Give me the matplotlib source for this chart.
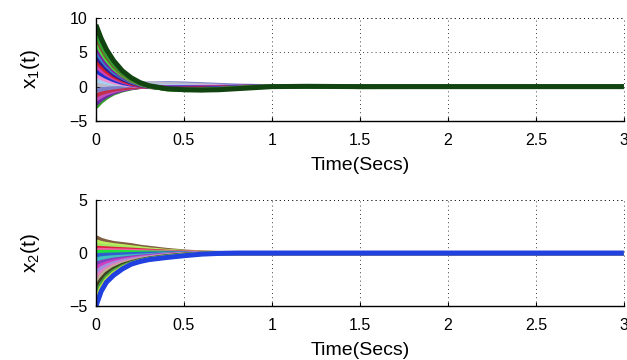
import matplotlib.pyplot as plt

plt.rcParams['font.family'] = ['Liberation Sans', 'DejaVu Sans']
plt.rcParams['mathtext.fontset'] = 'custom'
plt.rcParams['mathtext.rm'] = 'Liberation Sans'
plt.rcParams['mathtext.it'] = 'Liberation Sans:italic'

# sample times (s) used for the state trajectories
t1 = [0, 0.03, 0.06, 0.1, 0.15, 0.2, 0.25, 0.3, 0.4, 0.5, 0.6, 0.7, 0.8, 0.9, 1.0, 1.2, 1.5, 3.0]
t2 = [0, 0.03, 0.06, 0.1, 0.15, 0.2, 0.25, 0.3, 0.4, 0.5, 0.6, 0.7, 0.8, 1.0, 3.0]

# x1(t) trajectories, bottom to top at t=0
x1_curves = [
    [-3.0, -2.2, -1.6, -1.0, -0.55, -0.25, -0.05, 0.1, 0.25, 0.3, 0.25, 0.15, 0.05, 0.0, 0.0, 0.0, 0.0, 0.0],
    [-2.5, -1.85, -1.35, -0.85, -0.45, -0.2, -0.05, 0.05, 0.15, 0.2, 0.15, 0.1, 0.05, 0.0, 0.0, 0.0, 0.0, 0.0],
    [-1.9, -1.4, -1.0, -0.65, -0.35, -0.15, 0.0, 0.05, 0.1, 0.1, 0.1, 0.05, 0.0, 0.0, 0.0, 0.0, 0.0, 0.0],
    [-1.3, -0.95, -0.7, -0.45, -0.25, -0.1, 0.0, 0.05, 0.05, 0.05, 0.0, 0.0, 0.0, 0.0, 0.0, 0.0, 0.0, 0.0],
    [-0.6, -0.4, -0.25, -0.1, 0.05, 0.2, 0.35, 0.45, 0.5, 0.45, 0.35, 0.25, 0.15, 0.1, 0.05, 0.0, 0.0, 0.0],
    [0.2, 0.25, 0.3, 0.35, 0.4, 0.45, 0.45, 0.45, 0.4, 0.3, 0.2, 0.1, 0.05, 0.0, 0.0, 0.0, 0.0, 0.0],
    [0.9, 0.75, 0.6, 0.45, 0.35, 0.25, 0.2, 0.15, 0.1, 0.05, 0.0, 0.0, 0.0, 0.0, 0.0, 0.0, 0.0, 0.0],
    [1.6, 1.25, 0.95, 0.65, 0.4, 0.2, 0.1, 0.0, -0.05, -0.05, 0.0, 0.0, 0.0, 0.0, 0.0, 0.0, 0.0, 0.0],
    [2.3, 1.8, 1.4, 0.95, 0.55, 0.3, 0.12, 0.0, -0.1, -0.1, -0.1, -0.05, 0.0, 0.0, 0.0, 0.0, 0.0, 0.0],
    [3.0, 2.35, 1.8, 1.25, 0.75, 0.4, 0.15, 0.0, -0.15, -0.2, -0.15, -0.1, -0.05, 0.0, 0.0, 0.0, 0.0, 0.0],
    [3.7, 2.9, 2.2, 1.5, 0.9, 0.45, 0.15, -0.05, -0.2, -0.25, -0.2, -0.15, -0.05, 0.0, 0.0, 0.0, 0.0, 0.0],
    [4.4, 3.45, 2.65, 1.8, 1.1, 0.6, 0.25, 0.0, -0.25, -0.3, -0.3, -0.2, -0.1, 0.0, 0.0, 0.0, 0.0, 0.0],
    [5.1, 4.0, 3.05, 2.1, 1.3, 0.7, 0.3, 0.0, -0.3, -0.35, -0.35, -0.25, -0.1, 0.0, 0.0, 0.0, 0.0, 0.0],
    [5.8, 4.5, 3.45, 2.4, 1.45, 0.8, 0.35, 0.05, -0.3, -0.4, -0.4, -0.3, -0.15, -0.05, 0.0, 0.0, 0.0, 0.0],
    [6.5, 5.05, 3.9, 2.7, 1.65, 0.9, 0.4, 0.05, -0.35, -0.45, -0.45, -0.35, -0.2, -0.05, 0.0, 0.0, 0.0, 0.0],
    [7.2, 5.6, 4.3, 3.0, 1.8, 1.0, 0.45, 0.05, -0.35, -0.45, -0.45, -0.35, -0.2, -0.05, 0.0, 0.05, -0.05, 0.0],
    [7.9, 6.15, 4.7, 3.3, 2.0, 1.1, 0.5, 0.1, -0.35, -0.5, -0.5, -0.4, -0.25, -0.1, 0.0, 0.05, -0.05, 0.0],
    [9.0, 7.0, 5.4, 3.8, 2.3, 1.3, 0.6, 0.15, -0.3, -0.45, -0.5, -0.45, -0.3, -0.15, 0.0, 0.05, 0.0, 0.0],
]
x1_colors = ['#3aa02a', '#6a2ca8', '#c04fc0', '#c0304a', '#7a80cc', '#b8b8c8',
             '#a8d0f0', '#f08cd0', '#2030d0', '#d040b0', '#d02030', '#301890',
             '#3080d0', '#8020a0', '#40e040', '#806030', '#30a030', '#124412']

# x2(t) trajectories, top to bottom at t=0
x2_curves = [
    [1.5, 1.25, 1.1, 0.95, 0.85, 0.75, 0.6, 0.5, 0.3, 0.15, 0.05, 0.0, 0.0, 0.0, 0.0],
    [1.1, 0.95, 0.85, 0.75, 0.65, 0.55, 0.45, 0.35, 0.2, 0.1, 0.03, 0.0, 0.0, 0.0, 0.0],
    [0.8, 0.72, 0.65, 0.58, 0.5, 0.42, 0.35, 0.28, 0.15, 0.08, 0.02, 0.0, 0.0, 0.0, 0.0],
    [0.5, 0.47, 0.44, 0.4, 0.36, 0.32, 0.27, 0.22, 0.13, 0.06, 0.02, 0.0, 0.0, 0.0, 0.0],
    [0.3, 0.3, 0.28, 0.26, 0.24, 0.21, 0.18, 0.15, 0.09, 0.04, 0.01, 0.0, 0.0, 0.0, 0.0],
    [0.1, 0.1, 0.1, 0.1, 0.1, 0.08, 0.06, 0.05, 0.03, 0.01, 0.0, 0.0, 0.0, 0.0, 0.0],
    [-0.2, -0.18, -0.16, -0.14, -0.12, -0.1, -0.08, -0.06, -0.03, -0.01, 0.0, 0.0, 0.0, 0.0, 0.0],
    [-0.6, -0.5, -0.45, -0.4, -0.35, -0.3, -0.25, -0.2, -0.1, -0.05, 0.0, 0.0, 0.0, 0.0, 0.0],
    [-1.0, -0.85, -0.75, -0.62, -0.52, -0.43, -0.35, -0.27, -0.15, -0.07, -0.02, 0.0, 0.0, 0.0, 0.0],
    [-1.4, -1.15, -0.98, -0.8, -0.65, -0.53, -0.42, -0.33, -0.18, -0.08, -0.02, 0.0, 0.0, 0.0, 0.0],
    [-1.8, -1.45, -1.2, -0.97, -0.77, -0.62, -0.49, -0.38, -0.21, -0.1, -0.03, 0.0, 0.0, 0.0, 0.0],
    [-2.3, -1.8, -1.45, -1.15, -0.9, -0.72, -0.56, -0.44, -0.24, -0.11, -0.04, 0.0, 0.0, 0.0, 0.0],
    [-2.8, -2.15, -1.7, -1.32, -1.02, -0.8, -0.62, -0.48, -0.27, -0.13, -0.05, -0.01, 0.0, 0.0, 0.0],
    [-3.3, -2.5, -1.95, -1.5, -1.12, -0.87, -0.67, -0.52, -0.3, -0.15, -0.06, -0.02, 0.0, 0.0, 0.0],
    [-3.9, -2.9, -2.25, -1.7, -1.25, -0.95, -0.72, -0.56, -0.33, -0.17, -0.07, -0.02, 0.0, 0.0, 0.0],
    [-4.4, -3.25, -2.5, -1.9, -1.38, -1.0, -0.76, -0.59, -0.38, -0.21, -0.08, -0.03, 0.0, 0.0, 0.0],
    [-5.0, -3.6, -2.75, -2.1, -1.5, -1.05, -0.8, -0.62, -0.42, -0.25, -0.1, -0.03, 0.0, 0.0, 0.0],
]
x2_colors = ['#806040', '#c0f060', '#a0e860', '#e02040', '#f060a0', '#20e040',
             '#3060d0', '#40c0c0', '#8040c0', '#d040c0', '#a090e0', '#e080c0',
             '#c0b090', '#404020', '#40a040', '#c0e040', '#2040e0']


def style_axes(ax, ylim, yticks, ylabel):
    ax.set_xlim(0, 3)
    ax.set_ylim(*ylim)
    ax.set_xticks([0, 0.5, 1, 1.5, 2, 2.5, 3])
    ax.set_xticklabels(['0', '0.5', '1', '1.5', '2', '2.5', '3'])
    ax.set_yticks(yticks)
    ax.grid(True, color='black', linestyle=(0, (1, 4)), linewidth=0.6)
    for s in ['top', 'right']:
        ax.spines[s].set_visible(False)
    # dotted frame on top and right like the MATLAB grid
    ax.axhline(ylim[1], color='black', linestyle=(0, (1, 4)), linewidth=0.6, clip_on=False)
    ax.axvline(3, color='black', linestyle=(0, (1, 4)), linewidth=0.6, clip_on=False)
    ax.spines['left'].set_linewidth(1.0)
    ax.spines['bottom'].set_linewidth(1.0)
    ax.tick_params(direction='in', length=3, width=0.8, labelsize=11.5)
    ax.tick_params(axis='x', pad=9)
    ax.tick_params(axis='y', pad=6)
    ax.set_xlabel('Time(Secs)', fontsize=14, labelpad=6)
    ax.set_ylabel(ylabel, fontsize=15, labelpad=20)


fig = plt.figure(figsize=(6.27, 3.6), dpi=100)
ax1 = fig.add_axes([0.153, 0.664, 0.842, 0.286])
ax2 = fig.add_axes([0.153, 0.150, 0.842, 0.294])

for i, (vals, c) in enumerate(zip(x1_curves, x1_colors)):
    lw = 3.6 if i == len(x1_curves) - 1 else 3.0
    ax1.plot(t1, vals, color=c, linewidth=lw, solid_capstyle='butt')

for i, (vals, c) in enumerate(zip(x2_curves, x2_colors)):
    lw = 3.6 if i == len(x2_curves) - 1 else 3.0
    ax2.plot(t2, vals, color=c, linewidth=lw, solid_capstyle='butt')

style_axes(ax1, (-5, 10), [-5, 0, 5, 10], r'x$_1$(t)')
style_axes(ax2, (-5, 5), [-5, 0, 5], r'x$_2$(t)')

fig.savefig('out.png', dpi=100)
